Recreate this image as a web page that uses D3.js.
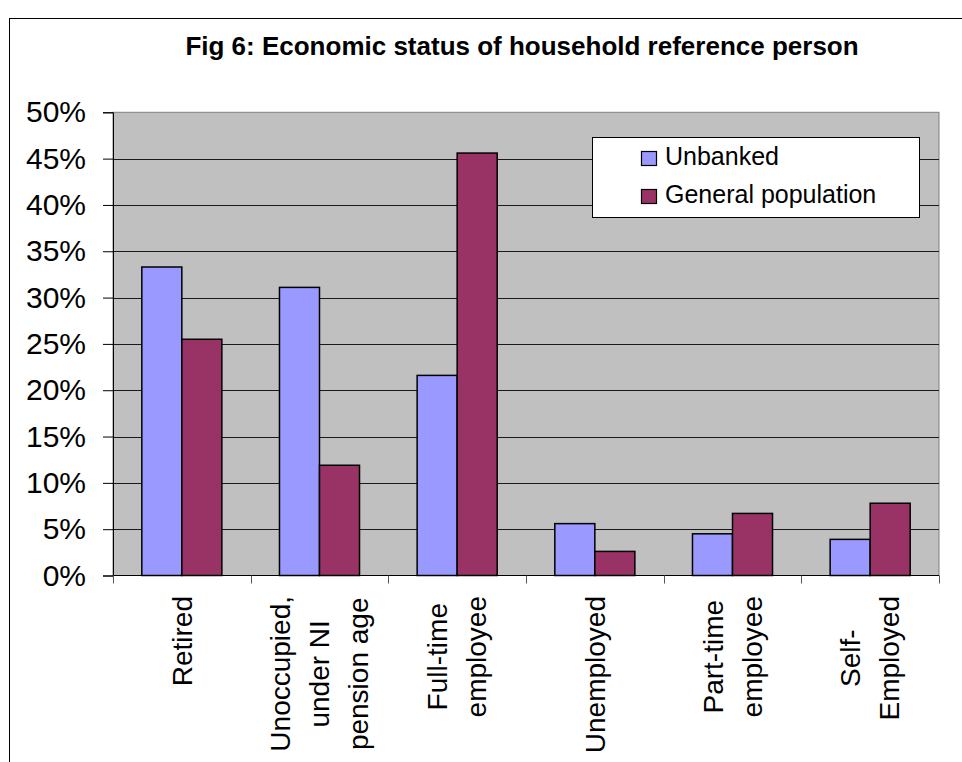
<!DOCTYPE html>
<html>
<head>
<meta charset="utf-8">
<script src="https://cdn.jsdelivr.net/npm/d3@7/dist/d3.min.js"></script>
<style>
  html, body { margin: 0; padding: 0; background: #fff; }
  text { font-family: Arial, "Liberation Sans", sans-serif; fill: #000; }
</style>
</head>
<body>
<svg id="chart" width="962" height="762"></svg>
<script>
var categories = [
    ['Retired'],
    ['Unoccupied,', 'under NI', 'pension age'],
    ['Full-time', 'employee'],
    ['Unemployed'],
    ['Part-time', 'employee'],
    ['Self-', 'Employed']
];
var seriesNames = ['Unbanked', 'General population'];
var unbanked = [33.3, 31.1, 21.6, 5.6, 4.5, 3.9];
var generalPop = [25.5, 11.9, 45.6, 2.6, 6.7, 7.8];
var yTicks = [0, 5, 10, 15, 20, 25, 30, 35, 40, 45, 50];

var colors = ['#9999ff', '#993366'];
var svg = d3.select('#chart');

var margin = { left: 113, right: 939, top: 112.3, bottom: 575.5 };

// chart frame
svg.append('rect')
    .attr('x', 9.5).attr('y', 18.5)
    .attr('width', 1000).attr('height', 1000)
    .attr('fill', 'none').attr('stroke', '#000');

svg.append('text')
    .attr('x', 522).attr('y', 55)
    .attr('text-anchor', 'middle')
    .attr('font-size', 26).attr('font-weight', 'bold')
    .text('Fig 6: Economic status of household reference person');

var keys = categories.map(function(c, i) { return 'c' + i; });
var x0 = d3.scaleBand().domain(keys).range([margin.left, margin.right]).padding(0);
var x1 = d3.scaleBand().domain(seriesNames).range([0, x0.bandwidth()]).paddingInner(0).paddingOuter(0.72);
var y = d3.scaleLinear().domain([0, 50]).range([margin.bottom, margin.top]);

// plot background
svg.append('rect')
    .attr('x', margin.left).attr('y', margin.top)
    .attr('width', margin.right - margin.left).attr('height', margin.bottom - margin.top)
    .attr('fill', '#c0c0c0').attr('stroke', '#808080');

// gridlines
svg.append('g').selectAll('line')
    .data(yTicks.filter(function(t) { return t > 0 && t < 50; }))
    .enter().append('line')
    .attr('x1', margin.left).attr('x2', margin.right)
    .attr('y1', function(d) { return Math.round(y(d)) + 0.5; })
    .attr('y2', function(d) { return Math.round(y(d)) + 0.5; })
    .attr('stroke', '#1a1a1a').attr('stroke-width', 1);

// bars
var data = categories.map(function(c, i) {
    return { key: keys[i], values: [unbanked[i], generalPop[i]] };
});
var group = svg.append('g').selectAll('g')
    .data(data)
    .enter().append('g')
    .attr('transform', function(d) { return 'translate(' + x0(d.key) + ',0)'; });

group.selectAll('rect')
    .data(function(d) {
        return d.values.map(function(v, j) { return { name: seriesNames[j], value: v, idx: j }; });
    })
    .enter().append('rect')
    .attr('x', function(d) { return x1(d.name); })
    .attr('y', function(d) { return y(d.value); })
    .attr('width', x1.bandwidth())
    .attr('height', function(d) { return y(0) - y(d.value); })
    .attr('fill', function(d) { return colors[d.idx]; })
    .attr('stroke', '#000').attr('stroke-width', 1.5);

// y axis
var yAxis = d3.axisLeft(y).tickValues(yTicks).tickSize(10).tickPadding(17)
    .tickFormat(function(d) { return d + '%'; });
var yg = svg.append('g').attr('transform', 'translate(' + margin.left + ',0)').call(yAxis);
yg.select('.domain').attr('stroke', '#000');
yg.selectAll('.tick line').attr('stroke', '#000');
yg.selectAll('text').attr('font-size', 30).attr('font-family', 'Arial, "Liberation Sans", sans-serif').attr('fill', '#000');

// x axis line + ticks at category boundaries
svg.append('line')
    .attr('x1', margin.left).attr('x2', margin.right)
    .attr('y1', margin.bottom).attr('y2', margin.bottom)
    .attr('stroke', '#000');
var bounds = keys.map(function(k) { return x0(k); }).concat([margin.right]);
svg.append('g').selectAll('line')
    .data(bounds)
    .enter().append('line')
    .attr('x1', function(d) { return Math.round(d) + 0.5; })
    .attr('x2', function(d) { return Math.round(d) + 0.5; })
    .attr('y1', margin.bottom).attr('y2', margin.bottom + 8)
    .attr('stroke', '#555');

// rotated category labels
var lineGap = 39;
var labelTop = 596;
var lg = svg.append('g').selectAll('g')
    .data(data)
    .enter().append('g');
lg.each(function(d, i) {
    var lines = categories[i];
    var g = d3.select(this);
    var cx = x0(d.key) + x0.bandwidth() / 2;
    var texts = lines.map(function(line, j) {
        return g.append('text')
            .attr('font-size', 28)
            .attr('text-anchor', 'middle')
            .attr('dy', '0.35em')
            .attr('data-x', cx + (j - (lines.length - 1) / 2) * lineGap)
            .text(line);
    });
    var maxLen = d3.max(texts, function(t) { return t.node().getComputedTextLength(); });
    var cy = labelTop + maxLen / 2;
    texts.forEach(function(t) {
        t.attr('transform', 'translate(' + t.attr('data-x') + ',' + cy + ') rotate(-90)');
    });
});

// legend
var legend = svg.append('g');
legend.append('rect')
    .attr('x', 592.5).attr('y', 137.5).attr('width', 327).attr('height', 80)
    .attr('fill', '#fff').attr('stroke', '#000');
var items = legend.selectAll('g.item')
    .data(seriesNames)
    .enter().append('g').attr('class', 'item')
    .attr('transform', function(d, i) { return 'translate(641,' + (151 + i * 38) + ')'; });
items.append('rect')
    .attr('x', 0.5).attr('y', 0.5).attr('width', 15).attr('height', 14)
    .attr('fill', function(d, i) { return colors[i]; })
    .attr('stroke', '#000').attr('stroke-width', 1.2);
items.append('text')
    .attr('x', 24).attr('y', 14)
    .attr('font-size', 25)
    .text(function(d) { return d; });
</script>
</body>
</html>
